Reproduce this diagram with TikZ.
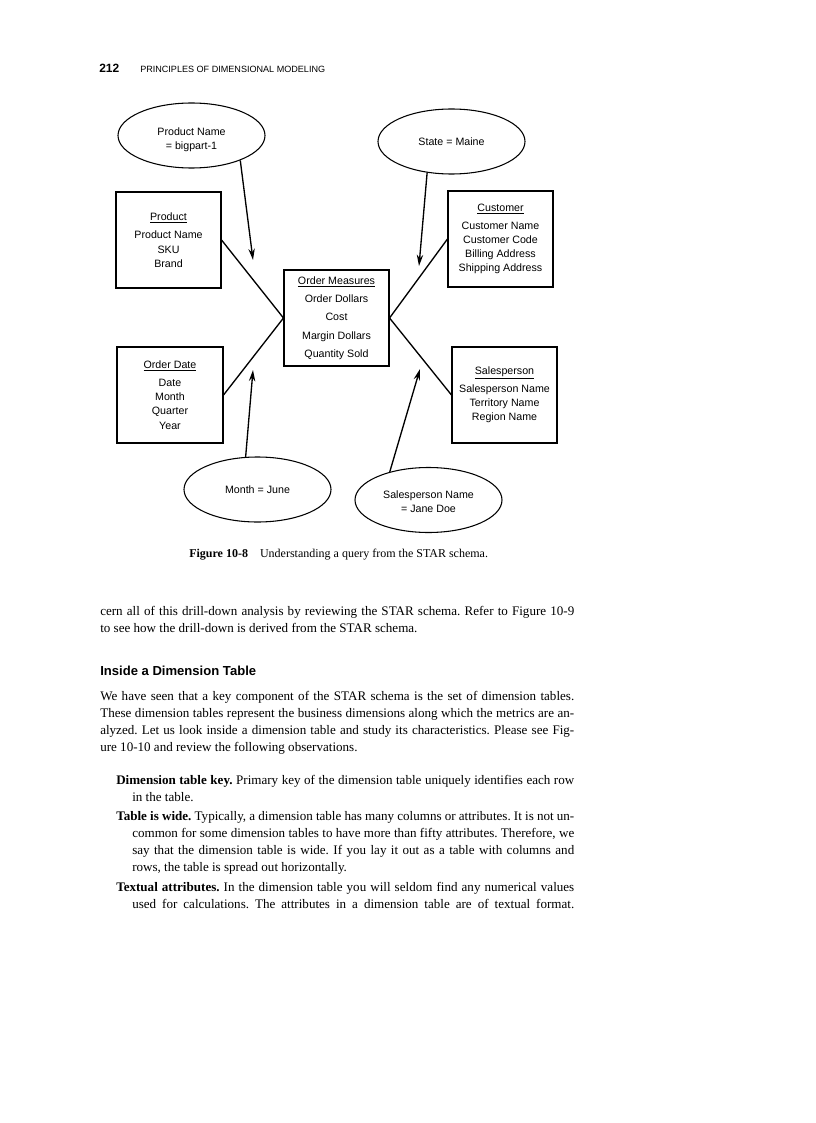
\documentclass[tikz,border=0pt]{standalone}
\usepackage{fontspec}
\setmainfont{Liberation Serif}
\setsansfont{Liberation Sans}
\usetikzlibrary{shapes.geometric,arrows.meta}
\frenchspacing

\begin{document}
\begin{tikzpicture}[x=0.75pt,y=0.75pt,yscale=-1,xscale=1,
  dimbox/.style={draw, line width=0.8pt, minimum width=78.75pt, minimum height=72pt, inner sep=0pt, align=center, font=\sffamily\fontsize{8}{10.6}\selectfont},
  filterell/.style={draw, ellipse, line width=0.8pt, minimum width=110.25pt, minimum height=48.75pt, inner sep=0pt, align=center, font=\sffamily\fontsize{8}{10.5}\selectfont},
  elltext/.style={align=center, inner sep=0pt, font=\sffamily\fontsize{8}{10.5}\selectfont},
  joinline/.style={line width=1pt},
  filterarrow/.style={line width=1pt, -{Stealth[length=8.5pt,width=4.8pt]}},
  bodypar/.style={anchor=north west, inner sep=0pt, align=justify, font=\fontsize{9.8}{12.75}\selectfont}
]
%set diagram to the page: 816 x 1123
\useasboundingbox (0,0) rectangle (816,1123);
\fill [white] (0,0) rectangle (816,1123);

% Text Node
\node [anchor=base west, inner sep=0pt, font=\sffamily\bfseries\fontsize{9}{11}\selectfont] (pageno) at (99,73) {212};
% Text Node
\node [anchor=base west, inner sep=0pt, font=\sffamily\fontsize{6.8}{8}\selectfont] (runhead) at (140,73) {PRINCIPLES OF DIMENSIONAL MODELING};

%Shape: Ellipse [id:pname]
\node [filterell, label={[elltext, yshift=-3pt]center:Product Name\\= bigpart-1}] (pname) at (191.5,135.5) {};
%Shape: Ellipse [id:state]
\node [filterell] (state) at (451.5,141.5) {State = Maine};
%Shape: Ellipse [id:month]
\node [filterell] (month) at (257.5,489.5) {Month = June};
%Shape: Ellipse [id:sname]
\node [filterell, label={[elltext, yshift=-1.5pt]center:Salesperson Name\\= Jane Doe}] (sname) at (428.5,500) {};

%Shape: Rectangle [id:product]
\node [dimbox] (product) at (168.5,240) {\underline{Product}\\[3.2pt]Product Name\\SKU\\Brand};
%Shape: Rectangle [id:customer]
\node [dimbox] (customer) at (500.5,239) {\underline{Customer}\\[2.6pt]Customer Name\\Customer Code\\Billing Address\\Shipping Address};
%Shape: Rectangle [id:measures]
\node [dimbox] (measures) at (336.5,318) {\underline{Order Measures}\\[3.1pt]Order Dollars\\[3.1pt]Cost\\[3.1pt]Margin Dollars\\[3.1pt]Quantity Sold};
%Shape: Rectangle [id:orderdate]
\node [dimbox, minimum width=79.5pt] (orderdate) at (170,395) {\underline{Order Date}\\[3pt]Date\\Month\\Quarter\\Year};
%Shape: Rectangle [id:salesperson]
\node [dimbox] (salesperson) at (504.5,395) {\underline{Salesperson}\\[3pt]Salesperson Name\\Territory Name\\Region Name};

%Straight Lines
\draw [joinline] (product.east) -- (measures.west);
\draw [joinline] (orderdate.east) -- (measures.west);
\draw [joinline] (customer.west) -- (measures.east);
\draw [joinline] (salesperson.west) -- (measures.east);

%Arrows
\coordinate (pnametip) at (253,260);
\coordinate (statetip) at (419,266);
\coordinate (monthtip) at (253,370);
\coordinate (snametip) at (420,369);
\draw [filterarrow] (pname.-27) -- (pnametip);
\draw [filterarrow] (state.-128) -- (statetip);
\draw [filterarrow] (month.110) -- (monthtip);
\draw [filterarrow] (sname.144) -- (snametip);

% Text Node
\node [anchor=base west, inner sep=0pt, font=\fontsize{9}{11}\selectfont] (caption) at (189,557) {\textbf{Figure 10-8}\quad Understanding a query from the STAR schema.};

% Text Node
\node [bodypar, text width=355.5pt] (carryover) at (100,603.6) {\strut cern all of this drill-down analysis by reviewing the STAR schema. Refer to Figure 10-9\linebreak to see how the drill-down is derived from the STAR schema.};
% Text Node
\node [anchor=base west, inner sep=0pt, font=\sffamily\bfseries\fontsize{9.8}{12}\selectfont] (heading) at (100,675) {Inside a Dimension Table};
% Text Node
\node [bodypar, text width=355.5pt] (intro) at (100,688.6) {\strut We have seen that a key component of the STAR schema is the set of dimension tables.\linebreak These dimension tables represent the business dimensions along which the metrics are an-\linebreak alyzed. Let us look inside a dimension table and study its characteristics. Please see Fig-\linebreak ure 10-10 and review the following observations.};
% Text Node
\node [bodypar, text width=343.5pt] (itemkey) at (116,772) {\hangindent=12pt\hangafter=1\strut\textbf{Dimension table key.} Primary key of the dimension table uniquely identifies each row\linebreak in the table.\par};
% Text Node
\node [bodypar, text width=343.5pt] (itemwide) at (116,808.6) {\hangindent=12pt\hangafter=1\strut\textbf{Table is wide.} Typically, a dimension table has many columns or attributes. It is not un-\linebreak common for some dimension tables to have more than fifty attributes. Therefore, we\linebreak say that the dimension table is wide. If you lay it out as a table with columns and\linebreak rows, the table is spread out horizontally.\par};
% Text Node
\node [bodypar, text width=343.5pt] (itemtext) at (116,879) {\hangindent=12pt\hangafter=1\parfillskip=0pt\strut\textbf{Textual attributes.} In the dimension table you will seldom find any numerical values\linebreak used for calculations. The attributes in a dimension table are of textual format.\par};

\end{tikzpicture}
\end{document}
